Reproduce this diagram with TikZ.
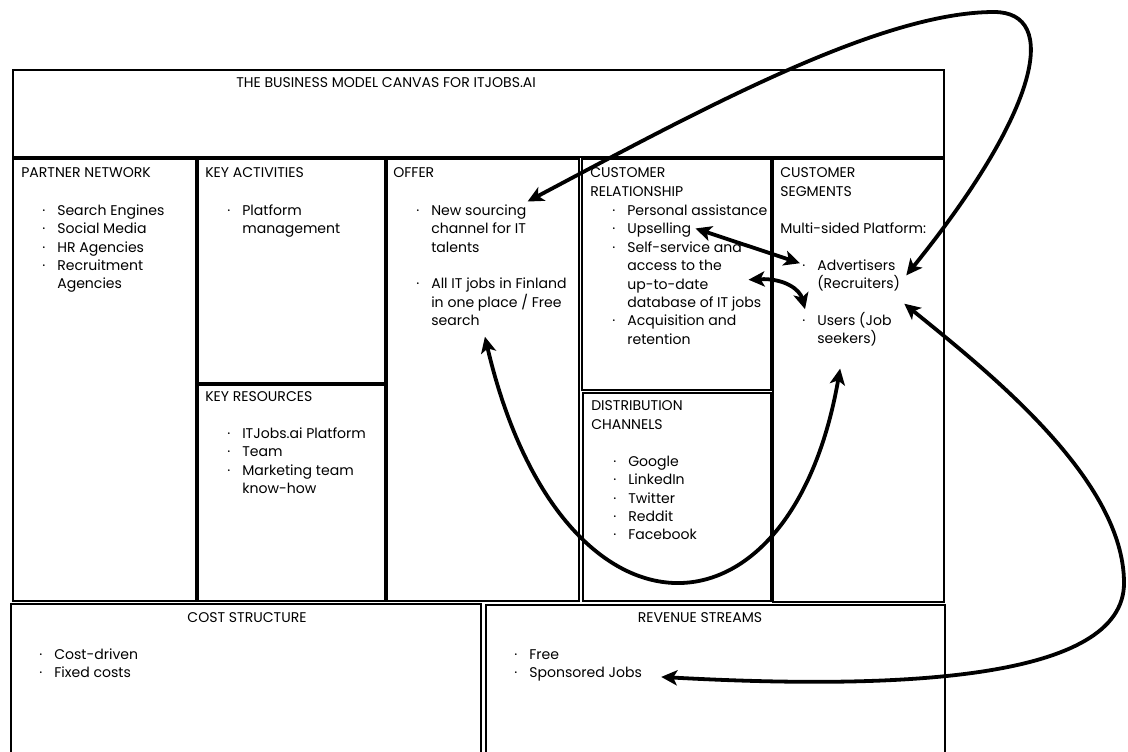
\documentclass[tikz,border=0pt]{standalone}
\usepackage{fontspec}
\setmainfont{Poppins}
\usetikzlibrary{arrows.meta,positioning,fit}

\newcommand{\bul}{\llap{·\hspace{0.3cm}}}

\begin{document}
\begin{tikzpicture}[x=0.025cm, y=-0.025cm,
    box/.style={draw, line width=1.5pt, inner sep=0pt},
    hdr/.style={anchor=base west, inner sep=0pt, align=left, font=\fontsize{10}{13}\selectfont},
    txt/.style={anchor=base west, inner sep=0pt, font=\fontsize{10}{13}\selectfont},
    flow/.style={<->, >={Stealth[length=4mm,width=3.8mm,inset=1mm]}, line width=2.7pt}]
  \path[use as bounding box, fill=white] (0,0) rectangle (1128,751);

  % canvas blocks
  \node[box, fit={(13,70) (944,157)}] (titlebox) {};
  \node[box, fit={(13,159) (196,601)}] (partners) {};
  \node[box, fit={(198,159) (385,383)}] (activities) {};
  \node[box, fit={(198,385) (385,601)}] (resources) {};
  \node[box, fit={(387,159) (579,601)}] (offer) {};
  \node[box, fit={(582,159) (771,390)}] (relation) {};
  \node[box, fit={(583,393) (771,601)}] (channels) {};
  \node[box, fit={(773,159) (944,602)}] (segments) {};
  \node[box, fit={(11,604) (481,770)}] (costs) {};
  \node[box, fit={(486,605) (945,770)}] (revenue) {};

  % headings (two-line ones sit on their last baseline)
  \node[hdr] (title) at (236,87.5) {THE BUSINESS MODEL CANVAS FOR ITJOBS.AI};
  \node[hdr] (pn) at (21,177.5) {PARTNER NETWORK};
  \node[hdr] (ka) at (205,177.5) {KEY ACTIVITIES};
  \node[hdr] (kr) at (205,401.5) {KEY RESOURCES};
  \node[hdr] (of) at (393,177.5) {OFFER};
  \node[hdr] (crel) at (590,196) {CUSTOMER\\RELATIONSHIP};
  \node[hdr] (dch) at (591,429) {DISTRIBUTION\\CHANNELS};
  \node[hdr] (cseg) at (780,196) {CUSTOMER\\SEGMENTS};
  \node[hdr, anchor=base] (cst) at (247,622) {COST STRUCTURE};
  \node[hdr, anchor=base] (rvs) at (700,622) {REVENUE STREAMS};

  % block contents
  \foreach \t [count=\i from 0] in {\bul Search Engines, \bul Social Media, \bul HR Agencies, \bul Recruitment, Agencies}
    \node[txt] (pn-\i) at (57,215.5+\i*18.3) {\t};
  \foreach \t [count=\i from 0] in {\bul Platform, management}
    \node[txt] (ka-\i) at (242,215.5+\i*18.3) {\t};
  \foreach \t [count=\i from 0] in {\bul ITJobs.ai Platform, \bul Team, \bul Marketing team, know-how}
    \node[txt] (kr-\i) at (242,438.5+\i*18.3) {\t};
  \foreach \t/\l in {{\bul New sourcing}/0, {channel for IT}/1, talents/2, {\bul All IT jobs in Finland}/4, {in one place / Free}/5, search/6}
    \node[txt] (offer-\l) at (431,215.5+\l*18.3) {\t};
  \foreach \t [count=\i from 0] in {\bul Personal assistance, \bul Upselling, \bul Self-service and, access to the, up-to-date, database of IT jobs, \bul Acquisition and, retention}
    \node[txt] (cr-\i) at (627,215.5+\i*18.4) {\t};
  \foreach \t [count=\i from 0] in {\bul Google, \bul LinkedIn, \bul Twitter, \bul Reddit, \bul Facebook}
    \node[txt] (dc-\i) at (628,466.5+\i*18.3) {\t};
  \node[txt] (platform) at (780,233.5) {Multi-sided Platform:};
  \foreach \t/\l in {{\bul Advertisers}/0, {(Recruiters)}/1, {\bul Users (Job}/3, {seekers)}/4}
    \node[txt] (cs-\l) at (817,270.5+\l*18.3) {\t};
  \foreach \t [count=\i from 0] in {\bul Cost-driven, \bul Fixed costs}
    \node[txt] (cost-\i) at (54,659+\i*18.3) {\t};
  \foreach \t [count=\i from 0] in {\bul Free, \bul Sponsored Jobs}
    \node[txt] (rev-\i) at (529,659+\i*18.3) {\t};

  % links
  \draw[flow] ([shift={(1,-3)}]offer-0.north east) .. controls (700,110) and (880,12) .. (994,12)
    .. controls (1060,12) and (1040,110) .. ([shift={(6,0)}]cs-1.north east);
  \draw[flow] ([shift={(4,-2)}]cr-1.east) -- ([shift={(-17,-2)}]cs-0.west);
  \draw[flow] ([shift={(40,-6)}]cr-4.east) .. controls (785,278) and (800,290) .. ([shift={(-12,-11)}]cs-3.west);
  \draw[flow] ([shift={(5,11)}]offer-6.south east) .. controls (560,656) and (790,656) .. ([shift={(-7,22)}]cs-4.south);
  \draw[flow] ([shift={(4,12)}]cs-1.south east) .. controls (990,373) and (1124,480) .. (1124,583)
    .. controls (1124,680) and (900,690) .. ([shift={(19,3)}]rev-1.east);
\end{tikzpicture}
\end{document}
